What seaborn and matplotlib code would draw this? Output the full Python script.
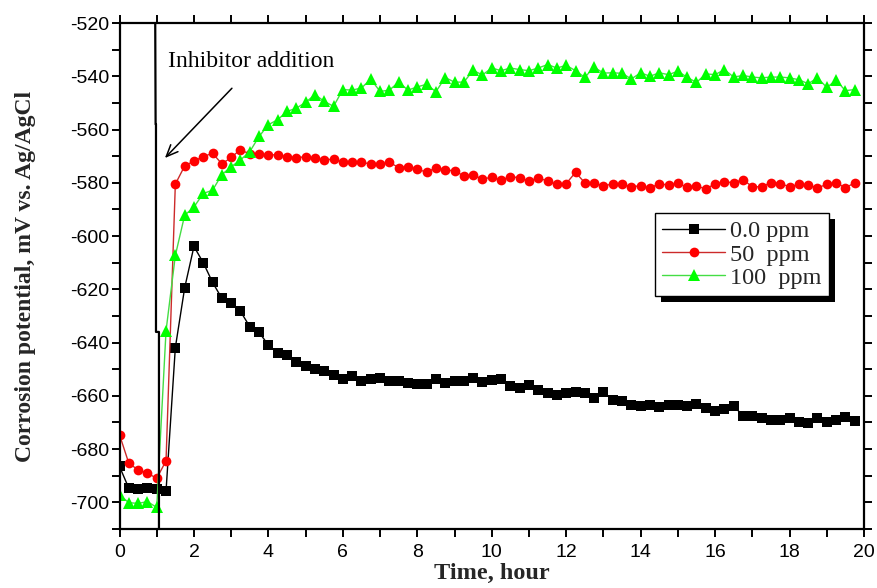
import matplotlib
matplotlib.use("Agg")
import matplotlib.pyplot as plt
from matplotlib.patches import Rectangle
from matplotlib.ticker import MultipleLocator
import seaborn as sns
import pandas as pd

# Sampling times (hours)
time_h = [
    0.0, 0.25, 0.5, 0.75, 1.0, 1.25, 1.5, 1.75, 2.0, 2.25,
    2.5, 2.75, 3.0, 3.25, 3.5, 3.75, 4.0, 4.25, 4.5, 4.75,
    5.0, 5.25, 5.5, 5.75, 6.0, 6.25, 6.5, 6.75, 7.0, 7.25,
    7.5, 7.75, 8.0, 8.25, 8.5, 8.75, 9.0, 9.25, 9.5, 9.75,
    10.0, 10.25, 10.5, 10.75, 11.0, 11.25, 11.5, 11.75, 12.0, 12.25,
    12.5, 12.75, 13.0, 13.25, 13.5, 13.75, 14.0, 14.25, 14.5, 14.75,
    15.0, 15.25, 15.5, 15.75, 16.0, 16.25, 16.5, 16.75, 17.0, 17.25,
    17.5, 17.75, 18.0, 18.25, 18.5, 18.75, 19.0, 19.25, 19.5, 19.75,
]

# Corrosion potential (mV vs. Ag/AgCl) for each inhibitor concentration
ecorr_0ppm = [
    -686.5, -694.7, -695.0, -694.7, -695.0, -695.8, -641.9, -619.5, -603.9, -610.0,
    -617.4, -623.4, -625.3, -628.3, -634.0, -636.2, -640.9, -643.8, -644.7, -647.3,
    -648.9, -649.8, -650.7, -652.0, -653.6, -652.5, -654.6, -653.8, -653.4, -654.6,
    -654.6, -655.3, -655.7, -655.4, -653.8, -655.3, -654.6, -654.5, -653.2, -654.8,
    -654.2, -653.6, -656.3, -657.0, -656.1, -657.9, -658.9, -659.5, -658.9, -658.6,
    -659.1, -660.8, -658.7, -661.5, -662.0, -663.5, -663.8, -663.4, -664.2, -663.3,
    -663.5, -663.7, -662.9, -664.5, -665.8, -664.9, -663.9, -667.4, -667.4, -668.5,
    -668.9, -668.9, -668.3, -669.8, -670.2, -668.3, -669.8, -668.9, -668.0, -669.5,
]
ecorr_50ppm = [
    -674.6, -685.3, -687.8, -689.0, -691.0, -684.4, -580.5, -573.7, -571.8, -570.2,
    -568.9, -572.9, -570.5, -567.5, -569.3, -569.3, -569.5, -569.5, -570.2, -570.6,
    -570.2, -570.8, -571.4, -571.1, -572.3, -572.1, -572.1, -573.1, -573.1, -572.3,
    -574.3, -574.0, -574.8, -576.1, -574.3, -575.2, -575.5, -577.4, -577.1, -578.6,
    -577.9, -579.0, -577.7, -578.1, -579.4, -578.1, -579.4, -580.6, -580.3, -576.1,
    -580.0, -580.0, -581.3, -580.3, -580.6, -581.5, -581.1, -582.0, -580.3, -580.9,
    -580.2, -581.7, -581.1, -582.4, -580.3, -579.6, -580.0, -578.8, -581.5, -581.5,
    -579.9, -580.3, -581.5, -580.6, -580.9, -581.9, -580.6, -579.9, -581.9, -580.0,
]
ecorr_100ppm = [
    -697.2, -700.1, -700.4, -699.7, -701.9, -635.6, -607.3, -592.2, -589.1, -584.0,
    -582.8, -576.9, -574.0, -571.4, -568.3, -562.6, -558.2, -556.3, -553.2, -552.0,
    -549.8, -546.9, -549.4, -551.3, -545.0, -545.2, -544.4, -541.1, -545.7, -545.2,
    -542.2, -545.2, -544.0, -543.0, -545.8, -540.5, -542.2, -542.2, -537.8, -539.5,
    -536.9, -537.9, -536.9, -537.5, -537.9, -536.9, -535.6, -536.9, -535.9, -537.9,
    -540.4, -536.6, -538.8, -538.7, -538.9, -541.0, -538.7, -540.0, -538.7, -539.4,
    -538.1, -540.4, -542.3, -539.1, -539.4, -537.5, -540.3, -539.7, -540.3, -540.6,
    -540.3, -540.3, -540.6, -541.3, -542.8, -540.6, -544.2, -541.5, -545.4, -545.0,
]

series_labels = ["0.0 ppm", "50  ppm", "100  ppm"]
series_values = [ecorr_0ppm, ecorr_50ppm, ecorr_100ppm]

sns.set_theme(style="ticks")
plt.rcParams["font.family"] = ["Liberation Sans", "DejaVu Sans"]
plt.rcParams["axes.unicode_minus"] = False

styles = [
    dict(marker="s", color="black", mfc="black", ms=7.5),
    dict(marker="o", color="#cc2a2a", mfc="#ff0000", ms=7.0),
    dict(marker="^", color="#44dd44", mfc="#00ff00", ms=9.0),
]

fig = plt.figure(figsize=(8.77, 5.88), dpi=100)
ax = fig.add_axes([119.5 / 877, 1 - 529 / 588, (864 - 119.5) / 877, (529 - 23) / 588])

for label, vals, st in zip(series_labels, series_values, styles):
    df = pd.DataFrame({"time": time_h, "ecorr": vals})
    sns.lineplot(
        data=df, x="time", y="ecorr", ax=ax, label=label,
        color=st["color"], linewidth=1.0,
        marker=st["marker"], markersize=st["ms"],
        markerfacecolor=st["mfc"], markeredgecolor=st["mfc"], markeredgewidth=0,
        sort=False, estimator=None,
    )

ax.set_xlim(0, 20)
ax.set_ylim(-710, -520)
ax.xaxis.set_major_locator(MultipleLocator(2))
ax.xaxis.set_minor_locator(MultipleLocator(1))
ax.yaxis.set_major_locator(MultipleLocator(20))
ax.yaxis.set_minor_locator(MultipleLocator(10))

for side in ["left", "right", "top", "bottom"]:
    ax.spines[side].set_visible(True)
    ax.spines[side].set_linewidth(1.6)
    ax.spines[side].set_color("black")

ax.tick_params(which="both", direction="out", top=True, right=True,
               width=1.4, color="black", labelsize=14, labelcolor="black")
ax.tick_params(which="major", length=6)
ax.tick_params(which="minor", length=5.5)
ax.tick_params(axis="y", which="major", pad=1.5)
ax.tick_params(axis="x", which="major", pad=5)

ax.set_xlabel("Time, hour", family=["Liberation Serif"], fontweight="bold",
              fontsize=17.5, labelpad=1.5)
ax.set_ylabel("Corrosion potential, mV vs. Ag/AgCl", family=["Liberation Serif"],
              fontweight="bold", fontsize=17, labelpad=24)

# Marker for the moment of inhibitor injection
ax.plot([0.96, 0.97, 0.98, 0.98, 1.06, 1.06], [-520, -558, -558, -636, -636, -710],
        color="black", linewidth=1.6, zorder=6, clip_on=False)
ax.annotate("", xy=(1.22, -570.7), xytext=(3.02, -544.5),
            arrowprops=dict(arrowstyle="->,head_length=0.7,head_width=0.3",
                            color="black", lw=1.1, shrinkA=0, shrinkB=0))
ax.text(1.30, -534.5, "Inhibitor addition", family=["Liberation Serif"],
        fontsize=17, ha="left", va="center", color="black")

leg = ax.legend(loc="upper left", bbox_to_anchor=(0.719, 0.6245), borderaxespad=0,
                prop={"family": "Liberation Serif", "size": 17.5},
                fancybox=False, framealpha=1, edgecolor="black",
                handlelength=2.6, handletextpad=0.2, borderpad=0.3,
                labelspacing=0.05, numpoints=1)
leg.get_frame().set_linewidth(1.0)
leg.set_zorder(7)

# Solid drop shadow behind the legend box
fig.canvas.draw()
bb = leg.get_frame().get_window_extent(fig.canvas.get_renderer())
inv = ax.transAxes.inverted()
(x0, y0), (x1, y1) = inv.transform([(bb.x0 + 6, bb.y0 - 6), (bb.x1 + 6, bb.y1 - 6)])
ax.add_patch(Rectangle((x0, y0), x1 - x0, y1 - y0, transform=ax.transAxes,
                       facecolor="black", edgecolor="none", zorder=6.9, clip_on=False))

fig.savefig("out.png", dpi=100)
